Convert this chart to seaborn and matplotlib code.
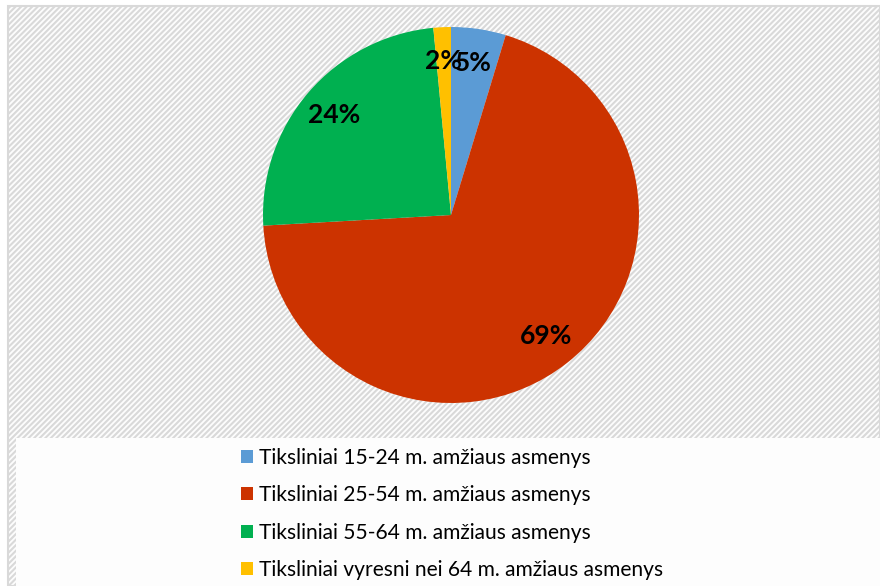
import matplotlib.pyplot as plt
import matplotlib.patches as mpatches
import seaborn as sns

# Data
groups = ['Tiksliniai 15-24 m. amžiaus asmenys',
          'Tiksliniai 25-54 m. amžiaus asmenys',
          'Tiksliniai 55-64 m. amžiaus asmenys',
          'Tiksliniai vyresni nei 64 m. amžiaus asmenys']
shares = [4.7, 69.4, 24.4, 1.5]
colors = ['#5B9BD5', '#CC3300', '#00B050', '#FFC000']

sns.set_theme(style='white')
plt.rcParams['font.family'] = ['Lato', 'DejaVu Sans']
plt.rcParams['hatch.color'] = '#F6F6F6'
plt.rcParams['hatch.linewidth'] = 1.5

W, H = 880, 586
fig = plt.figure(figsize=(W / 100, H / 100), dpi=100)
fig.patch.set_facecolor('white')

# striped chart background with grey frame
bg = mpatches.Rectangle((8 / W, 0), 1 - 8 / W, 1 - 6 / H, transform=fig.transFigure,
                        facecolor='#FDFDFD', edgecolor='#D9D9D9', lw=1.5, hatch='//////', zorder=-3)
fig.patches.append(bg)
# legend area (plainer)
lg = mpatches.Rectangle((16 / W, 0), 1 - 16 / W, (H - 438) / H, transform=fig.transFigure,
                        facecolor='#FDFDFD', edgecolor='none', zorder=-2)
fig.patches.append(lg)

cx, cy, r = 451, 215, 188
ax = fig.add_axes([(cx - r) / W, (H - cy - r) / H, 2 * r / W, 2 * r / H])
ax.patch.set_visible(False)
wedges, texts, autotexts = ax.pie(shares, colors=colors, startangle=90, counterclock=False,
                                  autopct='%.0f%%', pctdistance=0.82,
                                  wedgeprops=dict(linewidth=0),
                                  textprops=dict(fontsize=19, fontweight='bold', color='black'))
ax.set_xlim(-1, 1)
ax.set_ylim(-1, 1)
ax.set_aspect('equal')
ax.axis('off')

leg = fig.legend(wedges, groups, loc='upper left', bbox_to_anchor=(222 / W, 1 - 429 / H),
                 frameon=False, fontsize=15.1, handlelength=0.58, handleheight=0.58,
                 handletextpad=0.3, labelspacing=0.83)
for t in leg.get_texts():
    t.set_color('black')

fig.savefig('out.png', dpi=100)
